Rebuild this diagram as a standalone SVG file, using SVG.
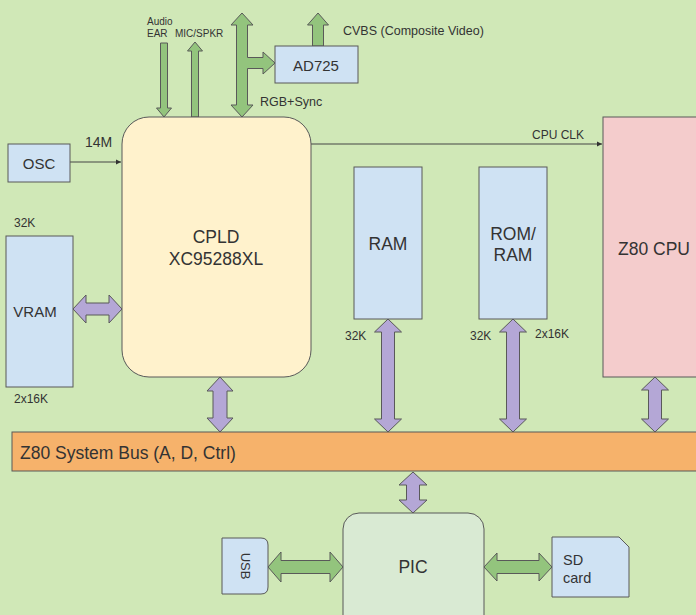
<svg xmlns="http://www.w3.org/2000/svg" width="696" height="615" viewBox="0 0 696 615">
<defs>
<style>
.t{font-family:"Liberation Sans",Arial,sans-serif;fill:#333;}
.box{stroke:#595959;stroke-width:1;}
.blue{fill:#cfe2f3;}
.pa{fill:#b4a7d6;stroke:#595959;stroke-width:1;stroke-linejoin:miter;}
.ga{fill:#93c47d;stroke:#595959;stroke-width:1;stroke-linejoin:miter;}
.ln{stroke:#444;stroke-width:1;fill:none;}
</style>
<marker id="ah" markerWidth="6" markerHeight="6" refX="5" refY="3" orient="auto" markerUnits="userSpaceOnUse">
<path d="M0,0.5 L5,3 L0,5.5 Z" fill="#333"/>
</marker>
</defs>
<rect x="0" y="0" width="696" height="615" fill="#d0e8b7"/>

<g id="connectors">
<line class="ln" x1="70" y1="162" x2="121" y2="162" marker-end="url(#ah)"/>
<line class="ln" x1="311" y1="144" x2="602" y2="144" marker-end="url(#ah)"/>
<polygon class="ga" points="160.5,43 167.5,43 167.5,108 171.5,108 164,117 156.5,108 160.5,108"/>
<polygon class="ga" points="195,42 202.5,51 198.5,51 198.5,117 191.5,117 191.5,51 187.5,51"/>
<polygon class="ga" points="242,13 253,25 247.5,25 247.5,57.5 263,57.5 263,52 275,63 263,74 263,68.5 247.5,68.5 247.5,105 253,105 242,117 231,105 236.5,105 236.5,25 231,25"/>
<polygon class="ga" points="318,13 328.5,25 323.5,25 323.5,46 312.5,46 312.5,25 307.5,25"/>
<polygon class="pa" points="73,309 86,295 86,303 109,303 109,295 122,309 109,323 109,315 86,315 86,323"/>
<polygon class="pa" points="220,377 233,391 227,391 227,418 233,418 220,432 207,418 213,418 213,391 207,391"/>
<polygon class="pa" points="388,319 401.5,332 394.5,332 394.5,419 401.5,419 388,432 374.5,419 381.5,419 381.5,332 374.5,332"/>
<polygon class="pa" points="513,319 526.5,332 519.5,332 519.5,419 526.5,419 513,432 499.5,419 506.5,419 506.5,332 499.5,332"/>
<polygon class="pa" points="655,377 668.5,390 661.5,390 661.5,419 668.5,419 655,432 641.5,419 648.5,419 648.5,390 641.5,390"/>
<polygon class="pa" points="413,472 427,485 419.5,485 419.5,500 427,500 413,513 399,500 406.5,500 406.5,485 399,485"/>
<polygon class="ga" points="268,567 281,552 281,560.5 330,560.5 330,552 343,567 330,582 330,573.5 281,573.5 281,582"/>
<polygon class="ga" points="484,567 497,553 497,560.5 539,560.5 539,553 552,567 539,581 539,573.5 497,573.5 497,581"/>
<text class="t" x="147" y="25" font-size="10">Audio</text>
<text class="t" x="147" y="37" font-size="10">EAR</text>
<text class="t" x="175" y="37" font-size="10">MIC/SPKR</text>
<text class="t" x="260" y="106" font-size="12.5">RGB+Sync</text>
<text class="t" x="343" y="35" font-size="12.5">CVBS (Composite Video)</text>
<text class="t" x="85" y="147" font-size="14">14M</text>
<text class="t" x="532" y="139" font-size="12">CPU CLK</text>
<text class="t" x="14" y="227" font-size="12">32K</text>
<text class="t" x="14" y="403" font-size="12">2x16K</text>
<text class="t" x="345" y="340" font-size="12">32K</text>
<text class="t" x="470" y="340" font-size="12">32K</text>
<text class="t" x="535" y="338" font-size="12">2x16K</text>
</g>

<g id="osc">
<rect class="box blue" x="8" y="144" width="62" height="38"/>
<text class="t" x="39" y="169" font-size="15" text-anchor="middle">OSC</text>
</g>
<g id="vram">
<rect class="box blue" x="6" y="236" width="67" height="151"/>
<text class="t" x="35" y="317" font-size="15" text-anchor="middle">VRAM</text>
</g>
<g id="cpld">
<rect class="box" fill="#fff2cc" x="122" y="117" width="189" height="260" rx="27" ry="27"/>
<text class="t" x="216" y="243" font-size="17.5" text-anchor="middle">CPLD</text>
<text class="t" x="216" y="265" font-size="17.5" text-anchor="middle">XC95288XL</text>
</g>
<g id="ad725">
<rect class="box blue" x="275" y="46" width="83" height="37"/>
<text class="t" x="316" y="71" font-size="15" text-anchor="middle">AD725</text>
</g>
<g id="ram">
<rect class="box blue" x="354" y="167" width="68" height="152"/>
<text class="t" x="388" y="250" font-size="17.5" text-anchor="middle">RAM</text>
</g>
<g id="romram">
<rect class="box blue" x="479" y="167" width="68" height="152"/>
<text class="t" x="513" y="240" font-size="17.5" text-anchor="middle">ROM/</text>
<text class="t" x="513" y="261" font-size="17.5" text-anchor="middle">RAM</text>
</g>
<g id="cpu">
<rect class="box" fill="#f4cccc" x="603" y="117" width="110" height="260"/>
<text class="t" x="654" y="255" font-size="17.5" text-anchor="middle">Z80 CPU</text>
</g>
<g id="bus">
<rect class="box" fill="#f6b26b" x="12" y="432" width="700" height="39"/>
<text class="t" x="20" y="459" font-size="17.5">Z80 System Bus (A, D, Ctrl)</text>
</g>
<g id="pic">
<rect class="box" fill="#d9ead3" x="343" y="513" width="141" height="120" rx="16" ry="16"/>
<text class="t" x="413" y="573" font-size="17.5" text-anchor="middle">PIC</text>
</g>
<g id="usb">
<path class="box blue" d="M222,538 H261 Q268,538 268,545 V587 Q268,594 261,594 H222 Z"/>
<text class="t" font-size="13" text-anchor="middle" transform="translate(240.5,566) rotate(90)">USB</text>
</g>
<g id="sdcard">
<path class="box blue" d="M552,537 H619 L629,547 V597 H552 Z"/>
<text class="t" x="563" y="565" font-size="14.5">SD</text>
<text class="t" x="563" y="583" font-size="14.5">card</text>
</g>
</svg>
